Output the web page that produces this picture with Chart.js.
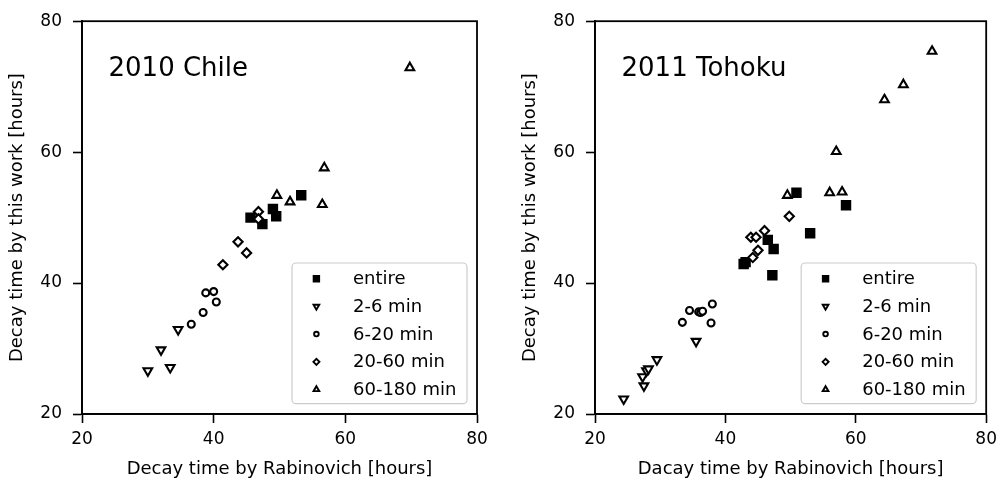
<!DOCTYPE html>
<html>
<head>
<meta charset="utf-8">
<script src="https://cdn.jsdelivr.net/npm/chart.js@4.4.0/dist/chart.umd.min.js"></script>
<style>
  body { margin: 0; background: #fff; }
  .panel { position: absolute; top: 0; width: 501px; height: 479px; }
</style>
</head>
<body>
<div class="panel" style="left:0"><canvas id="chile" width="501" height="479"></canvas></div>
<div class="panel" style="left:502px"><canvas id="tohoku" width="501" height="479"></canvas></div>
<script>
const seriesNames = ["entire", "2-6 min", "6-20 min", "20-60 min", "60-180 min"];
const axisTicks = [20, 40, 60, 80];

// 2010 Chile : [Rabinovich, this work] in hours
const chileEntire = [[45.6, 50.0], [47.4, 49.0], [49.0, 51.3], [49.5, 50.2], [53.3, 53.4]];
const chile2to6 = [[30.0, 26.6], [32.0, 29.8], [33.4, 27.1], [34.6, 32.9]];
const chile6to20 = [[36.6, 33.7], [38.4, 35.5], [38.8, 38.5], [40.0, 38.7], [40.4, 37.1]];
const chile20to60 = [[41.4, 42.8], [43.7, 46.3], [45.0, 44.6], [46.8, 50.9], [46.8, 49.8]];
const chile60to180 = [[49.6, 53.4], [51.6, 52.4], [56.8, 57.6], [56.5, 52.0], [69.8, 72.9]];

// 2011 Tohoku
const tohokuEntire = [[50.9, 53.8], [58.5, 51.9], [53.0, 47.6], [46.5, 46.6], [47.4, 45.2], [47.2, 41.2], [42.8, 42.9], [43.1, 43.2]];
const tohoku2to6 = [[24.4, 22.3], [27.5, 24.3], [27.3, 25.7], [27.9, 26.6], [28.2, 26.9], [29.5, 28.3], [35.5, 31.1]];
const tohoku6to20 = [[33.4, 34.0], [34.5, 35.8], [35.9, 35.6], [36.2, 35.5], [36.5, 35.7], [37.8, 33.9], [38.0, 36.8]];
const tohoku20to60 = [[43.9, 47.0], [44.7, 47.0], [46.0, 48.0], [49.8, 50.2], [44.2, 43.9], [45.0, 45.0]];
const tohoku60to180 = [[49.5, 53.4], [56.0, 53.8], [57.9, 53.9], [57.0, 60.1], [64.4, 68.0], [67.3, 70.3], [71.7, 75.4]];

Chart.defaults.font.family = "'DejaVu Sans', sans-serif";
Chart.defaults.color = "#000";

// marker look for each series (matplotlib s, v, o, D, ^)
const markers = [
  { pointStyle: "rect", radius: 5.9, rotation: 0, fill: "#000" },
  { pointStyle: "triangle", radius: 5.0, rotation: 180, fill: "#fff" },
  { pointStyle: "circle", radius: 3.5, rotation: 0, fill: "#fff" },
  { pointStyle: "rectRot", radius: 4.6, rotation: 0, fill: "#fff" },
  { pointStyle: "triangle", radius: 5.0, rotation: 0, fill: "#fff" },
];

const makeDatasets = (groups) =>
  groups.map((pts, i) => ({
    label: seriesNames[i],
    data: pts.map((p) => ({ x: p[0], y: p[1] })),
    pointStyle: markers[i].pointStyle,
    pointRadius: markers[i].radius,
    pointRotation: markers[i].rotation,
    pointBackgroundColor: markers[i].fill,
    pointBorderColor: "#000",
    pointBorderWidth: 2.1,
    pointHoverRadius: markers[i].radius,
    order: groups.length - i, // later series on top
  }));

// black box around the plot area
const framePlugin = {
  id: "frame",
  afterDraw(chart) {
    const { ctx, chartArea: a } = chart;
    ctx.save();
    ctx.strokeStyle = "#000";
    ctx.lineWidth = 1.8;
    ctx.strokeRect(a.left, a.top, a.right - a.left, a.bottom - a.top);
    ctx.restore();
  },
};

// big label inside the plot
const panelTitlePlugin = {
  id: "panelTitle",
  afterDraw(chart, args, opts) {
    const { ctx, chartArea: a } = chart;
    ctx.save();
    ctx.font = "26px 'DejaVu Sans', sans-serif";
    ctx.fillStyle = "#000";
    ctx.textBaseline = "alphabetic";
    ctx.fillText(opts.text, a.left + 26.5, a.top + 54.3);
    ctx.restore();
  },
};

// matplotlib style legend, lower right
const boxLegendPlugin = {
  id: "boxLegend",
  afterDraw(chart) {
    const { ctx, chartArea: a } = chart;
    const bx = a.right - 185, by = a.bottom - 151, bw = 175, bh = 140.7;
    ctx.save();
    ctx.beginPath();
    ctx.roundRect(bx, by, bw, bh, 4);
    ctx.fillStyle = "rgba(255,255,255,0.8)";
    ctx.fill();
    ctx.strokeStyle = "#cccccc";
    ctx.lineWidth = 1.2;
    ctx.stroke();

    ctx.font = "18px 'DejaVu Sans', sans-serif";
    ctx.textBaseline = "middle";
    chart.data.datasets.forEach((ds, i) => {
      const y = by + 15.7 + i * 27.7;
      ctx.fillStyle = ds.pointBackgroundColor;
      ctx.strokeStyle = "#000";
      ctx.lineWidth = 1.9;
      Chart.helpers.drawPoint(ctx, {
        pointStyle: ds.pointStyle,
        radius: ds.pointRadius * 0.66,
        rotation: ds.pointRotation,
        borderWidth: 1.9,
      }, bx + 24.4, y);
      ctx.fillStyle = "#000";
      ctx.fillText(ds.label, bx + 61, y + 1);
    });
    ctx.restore();
  },
};

const makeAxis = (title, fitSize, isY, titlePad) => ({
  type: "linear",
  min: 20,
  max: 80,
  afterBuildTicks: (s) => { s.ticks = axisTicks.map((v) => ({ value: v })); },
  ticks: { color: "#000", font: { size: 17 }, padding: isY ? 11 : 6 },
  grid: { display: true, drawOnChartArea: false, drawTicks: true, tickLength: 9, tickWidth: 1.6, tickColor: "#000" },
  border: { display: true, color: "#000", width: 1.8 },
  title: { display: true, text: title, color: "#000", font: { size: 18, lineHeight: 1.1 }, padding: titlePad },
  afterFit: (s) => { if (isY) s.width = fitSize; else s.height = fitSize; },
});

const makeChart = (id, title, xTitle, groups, yWidth, rightPad, yTitlePad) =>
  new Chart(document.getElementById(id), {
    type: "scatter",
    data: { datasets: makeDatasets(groups) },
    options: {
      responsive: false,
      animation: false,
      devicePixelRatio: 1,
      layout: { padding: { left: 0, top: 19, right: rightPad, bottom: 0 } },
      scales: {
        x: makeAxis(xTitle, 65, false, { top: 0, bottom: 0 }),
        y: makeAxis("Decay time by this work [hours]", yWidth, true, { top: yTitlePad, bottom: 0 }),
      },
      plugins: {
        legend: { display: false },
        tooltip: { enabled: false },
        panelTitle: { text: title },
      },
    },
    plugins: [framePlugin, panelTitlePlugin, boxLegendPlugin],
  });

makeChart("chile", "2010 Chile", "Decay time by Rabinovich [hours]",
  [chileEntire, chile2to6, chile6to20, chile20to60, chile60to180], 82, 24, 7.5);
makeChart("tohoku", "2011 Tohoku", "Dacay time by Rabinovich [hours]",
  [tohokuEntire, tohoku2to6, tohoku6to20, tohoku20to60, tohoku60to180], 93, 13, 18.5);
</script>
</body>
</html>
